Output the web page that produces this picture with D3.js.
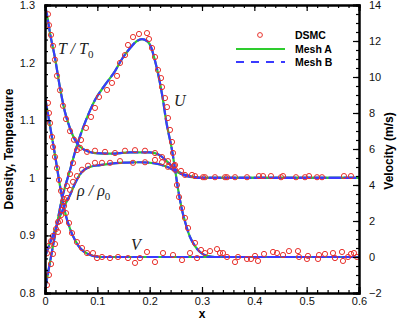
<!DOCTYPE html>
<html>
<head>
<meta charset="utf-8">
<title>DSMC vs mesh profiles</title>
<script src="https://cdn.jsdelivr.net/npm/d3@7"></script>
<style>
  body { margin: 0; background: #fff; }
  text { font-family: "Liberation Sans", Arial, sans-serif; }
  .tick text { font-size: 11px; }
  .lbl { font-family: "Liberation Serif", "Times New Roman", serif; font-style: italic; font-size: 16px; fill: #222; }
</style>
</head>
<body>
<div id="chart"></div>
<script>
// x ticks / axis ranges
var xTicks = [0, 0.1, 0.2, 0.3, 0.4, 0.5, 0.6];
var leftTicks = [0.8, 0.9, 1, 1.1, 1.2, 1.3];
var rightTicks = [-2, 0, 2, 4, 6, 8, 10, 12, 14];

// Mesh A profiles  (T and rho on left axis, U and V on right axis)
var tA   = [[0,1.3],[0.0038,1.283],[0.0096,1.251],[0.0191,1.208],[0.0287,1.156],[0.0382,1.114],[0.0478,1.086],[0.0611,1.06],[0.0764,1.048],[0.0955,1.043],[0.1242,1.042],[0.1624,1.044],[0.2006,1.044],[0.2197,1.039],[0.235,1.027],[0.2484,1.015],[0.2618,1.007],[0.2771,1.003],[0.2962,1.0],[0.6,1.0]];
var rhoA = [[0,0.8625],[0.0096,0.887],[0.0191,0.909],[0.0287,0.933],[0.0382,0.953],[0.0478,0.97],[0.0573,0.99],[0.0669,1.006],[0.086,1.019],[0.1051,1.022],[0.1433,1.026],[0.1815,1.027],[0.2102,1.025],[0.2331,1.019],[0.2522,1.01],[0.2713,1.003],[0.2962,1.0],[0.6,1.0]];
var uA   = [[0,-1.83],[0.0096,-0.28],[0.0191,1.22],[0.0319,3.17],[0.0478,4.83],[0.0611,6.2],[0.0783,7.6],[0.0955,8.72],[0.1147,9.56],[0.1338,10.33],[0.1471,11.0],[0.1624,11.6],[0.1758,12.0],[0.1854,12.1],[0.1949,12.0],[0.2025,11.67],[0.2102,10.9],[0.2197,9.67],[0.2255,8.72],[0.2312,7.61],[0.2427,5.94],[0.2484,4.9],[0.2541,3.8],[0.2618,2.61],[0.2694,1.78],[0.2771,1.11],[0.2866,0.61],[0.2962,0.28],[0.3096,0.06],[0.3248,0],[0.6,0]];
var vA   = [[0,8.89],[0.0096,7.28],[0.0191,5.67],[0.0287,3.94],[0.0382,2.5],[0.0478,1.56],[0.0573,0.94],[0.0669,0.5],[0.0822,0.17],[0.105,0],[0.6,0]];

// Mesh B profiles
var tB   = [[0,1.3],[0.0038,1.283],[0.0096,1.251],[0.0191,1.208],[0.0287,1.156],[0.0382,1.114],[0.0478,1.086],[0.0611,1.06],[0.0764,1.048],[0.0955,1.043],[0.1242,1.042],[0.1624,1.044],[0.2006,1.044],[0.2197,1.039],[0.235,1.027],[0.2484,1.015],[0.2618,1.007],[0.2771,1.003],[0.2962,1.0],[0.6,1.0]];
var rhoB = [[0,0.8625],[0.0096,0.887],[0.0191,0.909],[0.0287,0.933],[0.0382,0.953],[0.0478,0.97],[0.0573,0.99],[0.0669,1.006],[0.086,1.019],[0.1051,1.022],[0.1433,1.026],[0.1815,1.027],[0.2102,1.025],[0.2331,1.019],[0.2522,1.01],[0.2713,1.003],[0.2962,1.0],[0.6,1.0]];
var uB   = [[0,-1.83],[0.0096,-0.28],[0.0191,1.22],[0.0319,3.17],[0.0478,4.83],[0.0611,6.2],[0.0783,7.6],[0.0955,8.72],[0.1147,9.56],[0.1338,10.33],[0.1471,11.0],[0.1624,11.6],[0.1758,12.0],[0.1854,12.1],[0.1949,12.0],[0.2025,11.67],[0.2102,10.9],[0.2197,9.67],[0.2255,8.72],[0.2312,7.61],[0.2427,5.94],[0.2484,4.9],[0.2541,3.8],[0.2618,2.61],[0.2694,1.78],[0.2771,1.11],[0.2866,0.61],[0.2962,0.28],[0.3096,0.06],[0.3248,0],[0.6,0]];
var vB   = [[0,8.89],[0.0096,7.28],[0.0191,5.67],[0.0287,3.94],[0.0382,2.5],[0.0478,1.56],[0.0573,0.94],[0.0669,0.5],[0.0822,0.17],[0.105,0],[0.6,0]];

// DSMC samples
var tDsmc = [[0.0057,1.284],[0.0076,1.265],[0.0115,1.248],[0.0153,1.229],[0.0191,1.205],[0.0229,1.177],[0.0287,1.152],[0.0344,1.125],[0.0401,1.102],[0.0478,1.081],[0.0554,1.066],[0.0669,1.052],[0.0803,1.045],[0.0955,1.047],[0.1147,1.045],[0.1338,1.043],[0.1529,1.047],[0.172,1.048],[0.1911,1.047],[0.2102,1.043],[0.2236,1.036],[0.235,1.029],[0.2465,1.021],[0.2599,1.012],[0.2809,1.005],[0.3019,1.001],[0.3248,1.001],[0.3478,1.001],[0.386,1.001],[0.4166,1.003],[0.451,1.001],[0.4796,1.001],[0.5045,1.003],[0.5293,1.001],[0.5847,1.003]];
var rhoDsmc = [[0.0038,0.869],[0.0076,0.882],[0.0115,0.89],[0.0153,0.899],[0.021,0.911],[0.0248,0.923],[0.0306,0.935],[0.0363,0.951],[0.042,0.965],[0.0478,0.979],[0.0535,0.993],[0.0611,1.003],[0.0707,1.014],[0.0822,1.021],[0.0955,1.026],[0.1089,1.026],[0.1242,1.026],[0.1433,1.029],[0.1682,1.026],[0.1911,1.027],[0.2102,1.031],[0.2236,1.027],[0.235,1.019],[0.2484,1.014],[0.2675,1.005],[0.2866,1.003],[0.3057,1.001],[0.344,1.001],[0.3631,1.001],[0.4089,1.003],[0.4318,1.003],[0.4548,1.003],[0.4968,1.001],[0.5198,1.001],[0.5713,1.003]];
var uDsmc = [[0.0038,-1.56],[0.0076,-1.0],[0.0115,-0.39],[0.0153,0.17],[0.0191,0.72],[0.0248,1.39],[0.0287,2.0],[0.0325,2.61],[0.0363,3.22],[0.042,3.94],[0.0478,4.61],[0.0535,5.22],[0.0611,5.94],[0.0688,6.5],[0.0783,7.17],[0.0879,7.78],[0.0955,8.28],[0.1032,8.89],[0.1185,9.28],[0.128,9.67],[0.1376,10.06],[0.1433,10.78],[0.1529,11.22],[0.1586,11.78],[0.1682,12.22],[0.1796,12.39],[0.1949,12.44],[0.1987,12.11],[0.2045,11.61],[0.2102,11.11],[0.2159,10.39],[0.2217,9.94],[0.2236,9.44],[0.2293,8.83],[0.2331,8.33],[0.235,7.72],[0.2389,7.06],[0.2427,6.39],[0.2446,5.78],[0.2484,5.11],[0.2522,4.0],[0.2561,3.33],[0.2618,2.72],[0.2675,2.17],[0.2733,1.61],[0.2866,0.78],[0.2981,0.39],[0.3057,0.22],[0.3153,0.33],[0.3287,0.44],[0.3344,0.22]];
var vDsmc = [[0.0057,8.56],[0.0076,8.0],[0.0096,7.44],[0.0134,6.67],[0.0153,6.11],[0.0191,5.56],[0.0229,4.94],[0.0268,4.28],[0.0306,3.67],[0.0344,3.06],[0.0401,2.44],[0.0459,1.89],[0.0516,1.33],[0.0611,0.83],[0.0707,0.5],[0.0803,0.22],[0.0917,0.22],[0.0994,-0.06],[0.1089,0],[0.1242,-0.06],[0.1395,0],[0.1586,-0.06],[0.172,-0.33],[0.1815,-0.06],[0.1949,0.28],[0.2102,-0.28],[0.2255,0.22],[0.2446,0.11],[0.2618,-0.17],[0.2771,0.22],[0.2905,-0.06],[0.3401,0.22],[0.3478,0],[0.3631,-0.28],[0.3688,0],[0.386,-0.11],[0.3936,-0.11],[0.4013,0.06],[0.407,-0.22],[0.4185,0.17],[0.4357,0.28],[0.4433,0.22],[0.4548,0.11],[0.4662,0.33],[0.4834,0.33],[0.4854,0],[0.5006,-0.11],[0.5025,0.06],[0.5217,-0.11],[0.5236,0.11],[0.535,0.17],[0.5503,0.22],[0.5541,-0.06],[0.5675,0.28],[0.5694,-0.22],[0.579,0],[0.5847,0.17],[0.5904,0.22],[0.5962,0]];

var W = 399, H = 322;
var m = {left: 45, top: 5, right: 359, bottom: 293};
var green = "#2ecc2e", blue = "#3a3aff", red = "#e8312c";

var svg = d3.select("#chart").append("svg").attr("width", W).attr("height", H);

var x = d3.scaleLinear().domain([0, 0.6]).range([m.left, m.right]);
var yL = d3.scaleLinear().domain([0.8, 1.3]).range([m.bottom, m.top]);
var yR = d3.scaleLinear().domain([-2, 14]).range([m.bottom, m.top]);

// clip to plot area
svg.append("clipPath").attr("id", "clip").append("rect")
  .attr("x", m.left).attr("y", m.top).attr("width", m.right - m.left).attr("height", m.bottom - m.top);

var plot = svg.append("g").attr("clip-path", "url(#clip)");

function lineFor(ys) {
  return d3.line().x(function(d) { return x(d[0]); }).y(function(d) { return ys(d[1]); }).curve(d3.curveMonotoneX);
}

var series = [
  {a: tA, b: tB, s: yL, dsmc: tDsmc},
  {a: rhoA, b: rhoB, s: yL, dsmc: rhoDsmc},
  {a: uA, b: uB, s: yR, dsmc: uDsmc},
  {a: vA, b: vB, s: yR, dsmc: vDsmc}
];

series.forEach(function(sr) {
  plot.append("path").datum(sr.a).attr("d", lineFor(sr.s))
    .attr("fill", "none").attr("stroke", green).attr("stroke-width", 2.2);
});
series.forEach(function(sr) {
  plot.append("path").datum(sr.b).attr("d", lineFor(sr.s))
    .attr("fill", "none").attr("stroke", blue).attr("stroke-width", 2.2)
    .attr("stroke-dasharray", "12,3");
});
series.forEach(function(sr) {
  plot.selectAll(null).data(sr.dsmc).enter().append("circle")
    .attr("cx", function(d) { return x(d[0]); })
    .attr("cy", function(d) { return sr.s(d[1]); })
    .attr("r", 2.6).attr("fill", "none").attr("stroke", red).attr("stroke-width", 1);
});

// axes, ticks inward
function minor(lo, hi, step) { return d3.range(lo, hi + step / 2, step); }

var ax = svg.append("g");
ax.append("g").attr("transform", "translate(0," + m.bottom + ")")
  .call(d3.axisBottom(x).tickValues(minor(0, 0.6, 0.02)).tickSize(-3).tickFormat(""));
ax.append("g").attr("transform", "translate(0," + m.bottom + ")")
  .call(d3.axisBottom(x).tickValues(xTicks).tickSize(-6).tickPadding(4).tickFormat(d3.format("")));
ax.append("g").attr("transform", "translate(0," + m.top + ")")
  .call(d3.axisTop(x).tickValues(minor(0, 0.6, 0.02)).tickSize(-3).tickFormat(""));
ax.append("g").attr("transform", "translate(0," + m.top + ")")
  .call(d3.axisTop(x).tickValues(xTicks).tickSize(-6).tickFormat(""));

ax.append("g").attr("transform", "translate(" + m.left + ",0)")
  .call(d3.axisLeft(yL).tickValues(minor(0.8, 1.3, 0.02)).tickSize(-3).tickFormat(""));
ax.append("g").attr("transform", "translate(" + m.left + ",0)")
  .call(d3.axisLeft(yL).tickValues(leftTicks).tickSize(-6).tickPadding(10).tickFormat(d3.format("")));

ax.append("g").attr("transform", "translate(" + m.right + ",0)")
  .call(d3.axisRight(yR).tickValues(minor(-2, 14, 0.5)).tickSize(-3).tickFormat(""));
ax.append("g").attr("transform", "translate(" + m.right + ",0)")
  .call(d3.axisRight(yR).tickValues(rightTicks).tickSize(-6).tickPadding(10).tickFormat(d3.format("")));

ax.selectAll(".domain").attr("stroke", "#000").attr("stroke-width", 2);
ax.selectAll(".tick line").attr("stroke", "#000").attr("stroke-width", 1.2);
ax.selectAll(".tick text").attr("fill", "#111").style("font-size", "11px");

// axis titles
svg.append("text").attr("transform", "translate(13," + ((m.top + m.bottom) / 2) + ") rotate(-90)")
  .attr("text-anchor", "middle").style("font-weight", "bold").style("font-size", "12px").text("Density, Temperature");
svg.append("text").attr("transform", "translate(393,151) rotate(-90)")
  .attr("text-anchor", "middle").style("font-weight", "bold").style("font-size", "12px").text("Velocity (m/s)");
svg.append("text").attr("x", (m.left + m.right) / 2).attr("y", 318)
  .attr("text-anchor", "middle").style("font-weight", "bold").style("font-size", "12px").text("x");

// curve labels
var t1 = svg.append("text").attr("class", "lbl").attr("x", 58).attr("y", 54);
t1.append("tspan").text("T / T");
t1.append("tspan").attr("dy", 4).style("font-size", "11px").style("font-style", "normal").text("0");
svg.append("text").attr("class", "lbl").attr("x", 174).attr("y", 106).text("U");
svg.append("text").attr("class", "lbl").attr("x", 131).attr("y", 250).text("V");
var r1 = svg.append("text").attr("class", "lbl").attr("x", 77).attr("y", 196);
r1.append("tspan").text("\u03c1 / \u03c1");
r1.append("tspan").attr("dy", 4).style("font-size", "11px").style("font-style", "normal").text("0");

// legend
var lg = svg.append("g").style("font-weight", "bold").style("font-size", "10.5px");
lg.append("circle").attr("cx", 260).attr("cy", 35).attr("r", 2.4).attr("fill", "none").attr("stroke", red);
lg.append("text").attr("x", 295).attr("y", 39).text("DSMC");
lg.append("line").attr("x1", 236).attr("x2", 285).attr("y1", 49).attr("y2", 49).attr("stroke", green).attr("stroke-width", 2);
lg.append("text").attr("x", 295).attr("y", 53).text("Mesh A");
lg.append("line").attr("x1", 236).attr("x2", 285).attr("y1", 62).attr("y2", 62).attr("stroke", blue).attr("stroke-width", 2).attr("stroke-dasharray", "8,7");
lg.append("text").attr("x", 295).attr("y", 66).text("Mesh B");
</script>
</body>
</html>
